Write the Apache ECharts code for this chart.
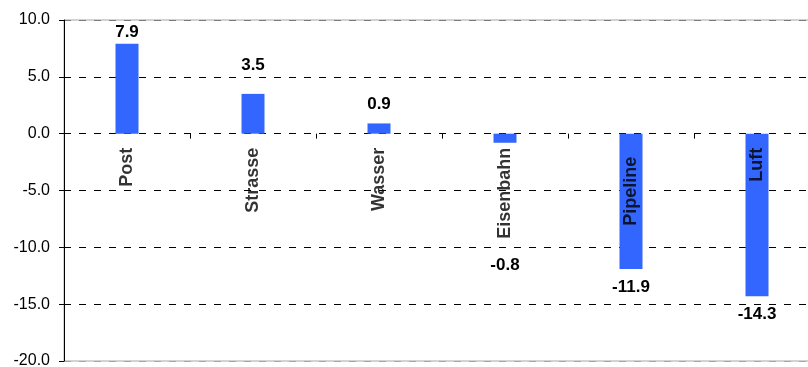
<!DOCTYPE html>
<html>
<head>
<meta charset="utf-8">
<script src="https://cdn.jsdelivr.net/npm/echarts@6/dist/echarts.min.js"></script>
<style>
  html, body { margin: 0; padding: 0; background: #ffffff; }
  #chart { width: 808px; height: 367px; }
</style>
</head>
<body>
<div id="chart"></div>
<script>
// Change by mode of transport
const categories = ['Post', 'Strasse', 'Wasser', 'Eisenbahn', 'Pipeline', 'Luft'];
const values = [7.9, 3.5, 0.9, -0.8, -11.9, -14.3];

// Value axis range
const yMin = -20;
const yMax = 10;
const yStep = 5;

// Layout: gap between bar end and its value label, in pixels
const labelGap = [3, 20, 11, 114, 10, 10];
// Layout: gap between the zero line and the end of each category name, in pixels
const nameGap = [14, 14, 14, 14, 23, 14];

const FONT = "'Liberation Sans', Arial, sans-serif";

const barData = values.map((v, i) => ({
  value: v,
  label: { position: v >= 0 ? 'top' : 'bottom', distance: labelGap[i] }
}));

// Category names hang from the zero line, read bottom to top
const nameData = categories.map((c, i) => ({
  value: [c, 0],
  label: { distance: nameGap[i] }
}));

const chart = echarts.init(document.getElementById('chart'), null, { renderer: 'canvas' });

chart.setOption({
  animation: false,
  backgroundColor: '#ffffff',
  grid: {
    left: 64, top: 20, width: 756, height: 341,
    show: true, borderColor: '#a6a6a6', borderWidth: 1,
    containLabel: false,
    outerBoundsMode: 'none'
  },
  xAxis: {
    type: 'category',
    data: categories,
    z: 5,
    axisLine: { show: true, onZero: true, lineStyle: { color: 'rgba(0,0,0,0)' } },
    axisTick: { show: true, length: 5, lineStyle: { color: '#000' } },
    splitLine: { show: false },
    axisLabel: { show: false }
  },
  yAxis: {
    type: 'value',
    min: yMin,
    max: yMax,
    interval: yStep,
    axisLine: { show: true, lineStyle: { color: '#000', width: 1 } },
    axisTick: { show: true, length: 5, lineStyle: { color: '#000' } },
    axisLabel: {
      margin: 14,
      fontFamily: FONT,
      fontSize: 16,
      color: '#000',
      formatter: v => v.toFixed(1)
    },
    splitLine: {
      show: true,
      lineStyle: {
        color: ['#a6a6a6', '#000', '#000', '#000', '#000', '#000', '#7a7a7a'],
        type: [7, 8],
        width: 1
      }
    }
  },
  series: [
    {
      type: 'bar',
      data: barData,
      barWidth: 23,
      itemStyle: { color: '#3366ff' },
      label: {
        show: true,
        fontFamily: FONT,
        fontSize: 17,
        fontWeight: 'bold',
        color: '#000',
        formatter: p => p.value.toFixed(1)
      }
    },
    {
      type: 'scatter',
      data: nameData,
      symbolSize: 0,
      silent: true,
      z: 4,
      label: {
        show: true,
        position: 'bottom',
        rotate: 90,
        align: 'right',
        verticalAlign: 'middle',
        fontFamily: FONT,
        fontSize: 18,
        fontWeight: 'bold',
        color: '#000',
        formatter: p => p.value[0]
      }
    }
  ]
});
</script>
</body>
</html>
